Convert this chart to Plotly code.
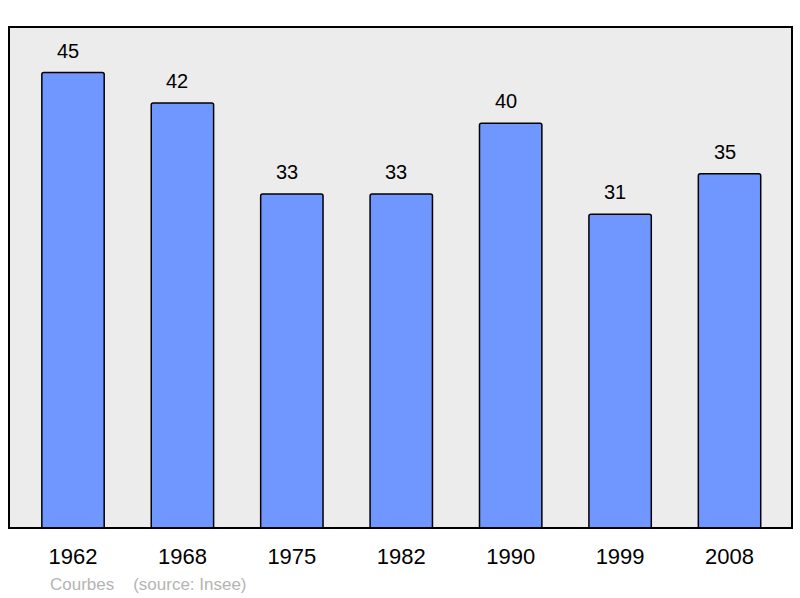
import plotly.graph_objects as go

# ── Données ───────────────────────────────────────────────────
annees = ["1962", "1968", "1975", "1982", "1990", "1999", "2008"]
population = [45, 42, 33, 33, 40, 31, 35]

_BLEU = "#7097ff"
_FOND = "#ececec"
_POLICE = "Liberation Sans, Arial, sans-serif"

fig = go.Figure(go.Bar(
    x=annees, y=population,
    width=0.57,
    marker=dict(color=_BLEU, line=dict(color="#000000", width=1.5), cornerradius=2),
    hovertemplate="%{x}: %{y}<extra></extra>",
))

# étiquettes de valeur au-dessus des barres (x = index de catégorie)
etiquettes = [dict(x=i, y=v, text=str(v), showarrow=False, yanchor="middle",
                   xshift=-5, yshift=22, font=dict(size=20, color="#000000"))
              for i, v in enumerate(population)]

etiquettes.append(dict(text="Courbes&nbsp;&nbsp;&nbsp;&nbsp;(source: Insee)",
                       xref="paper", yref="paper", x=0.050, y=-0.112,
                       xanchor="left", yanchor="middle", showarrow=False,
                       font=dict(size=17, color="#b4b4b4")))

fig.update_layout(
    width=800, height=598,
    paper_bgcolor="#ffffff",
    plot_bgcolor=_FOND,
    margin=dict(l=9, r=8, t=27, b=70),
    font=dict(family=_POLICE, color="#000000"),
    showlegend=False,
    xaxis=dict(type="category", range=[-0.585, 6.571], showgrid=False,
               ticks="", tickfont=dict(size=22), ticklabelstandoff=13),
    yaxis=dict(range=[0, 49.5], showgrid=False, showticklabels=False,
               zeroline=False, ticks=""),
    shapes=[dict(type="rect", xref="paper", yref="paper", x0=0, x1=1, y0=0, y1=1,
                 line=dict(color="#000000", width=2), layer="above")],
    annotations=etiquettes,
)

# supprime la marge par défaut de la page
fig.write_html("out.html", config={"displayModeBar": False},
               post_script="document.body.style.margin='0';")
